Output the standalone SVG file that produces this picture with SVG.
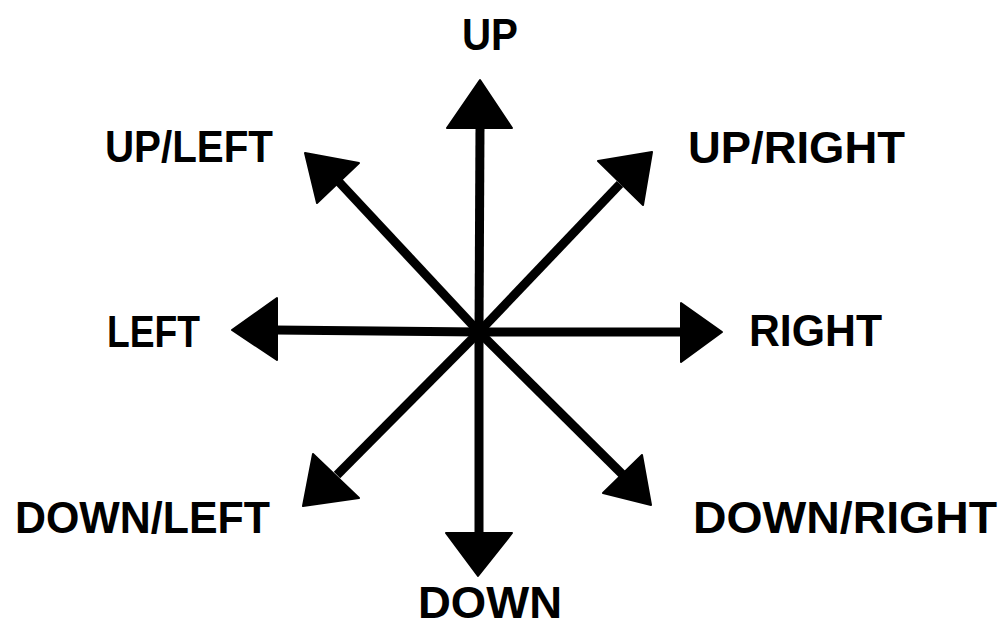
<svg xmlns="http://www.w3.org/2000/svg" width="1001" height="628" viewBox="0 0 1001 628">
<style>
.lbl{font-family:"Liberation Sans",Arial,sans-serif;font-weight:bold;font-size:45px;fill:#000}
.shaft{stroke:#000;stroke-width:9;fill:none}
.head{fill:#000;stroke:#000;stroke-width:2;stroke-linejoin:round}
</style>
<rect width="1001" height="628" fill="#fff"/>
<g id="connectors">
<line class="shaft" x1="479" y1="332" x2="480" y2="126"/>
<line class="shaft" x1="479" y1="332" x2="479" y2="535"/>
<line class="shaft" x1="479" y1="332" x2="275" y2="330"/>
<line class="shaft" x1="479" y1="332" x2="683" y2="332"/>
<line class="shaft" x1="479" y1="332" x2="339" y2="182"/>
<line class="shaft" x1="479" y1="332" x2="620" y2="184"/>
<line class="shaft" x1="479" y1="332" x2="337" y2="475"/>
<line class="shaft" x1="479" y1="332" x2="623" y2="475"/>
<circle cx="479" cy="332" r="10" fill="#000"/>
<polygon class="head" points="480,80 447,128 512,128"/>
<polygon class="head" points="478,576 446,533 512,533"/>
<polygon class="head" points="232,330 277,298 277,360"/>
<polygon class="head" points="722,332 681,303 681,362"/>
<polygon class="head" points="305,153 359,163 317,203"/>
<polygon class="head" points="652,152 598,161 643,205"/>
<polygon class="head" points="303,506 313,454 359,498"/>
<polygon class="head" points="651,505 642,455 603,493"/>
</g>
<g id="up"><text class="lbl" x="462" y="50" textLength="56" lengthAdjust="spacingAndGlyphs">UP</text></g>
<g id="up-left"><text class="lbl" x="105" y="162" textLength="168" lengthAdjust="spacingAndGlyphs">UP/LEFT</text></g>
<g id="up-right"><text class="lbl" x="688" y="163" textLength="217" lengthAdjust="spacingAndGlyphs">UP/RIGHT</text></g>
<g id="left"><text class="lbl" x="107" y="347" textLength="93" lengthAdjust="spacingAndGlyphs">LEFT</text></g>
<g id="right"><text class="lbl" x="749" y="346" textLength="133" lengthAdjust="spacingAndGlyphs">RIGHT</text></g>
<g id="down-left"><text class="lbl" x="15" y="533" textLength="255" lengthAdjust="spacingAndGlyphs">DOWN/LEFT</text></g>
<g id="down-right"><text class="lbl" x="693" y="533" textLength="304" lengthAdjust="spacingAndGlyphs">DOWN/RIGHT</text></g>
<g id="down"><text class="lbl" x="418" y="618" font-size="42" textLength="144" lengthAdjust="spacingAndGlyphs">DOWN</text></g>
</svg>
